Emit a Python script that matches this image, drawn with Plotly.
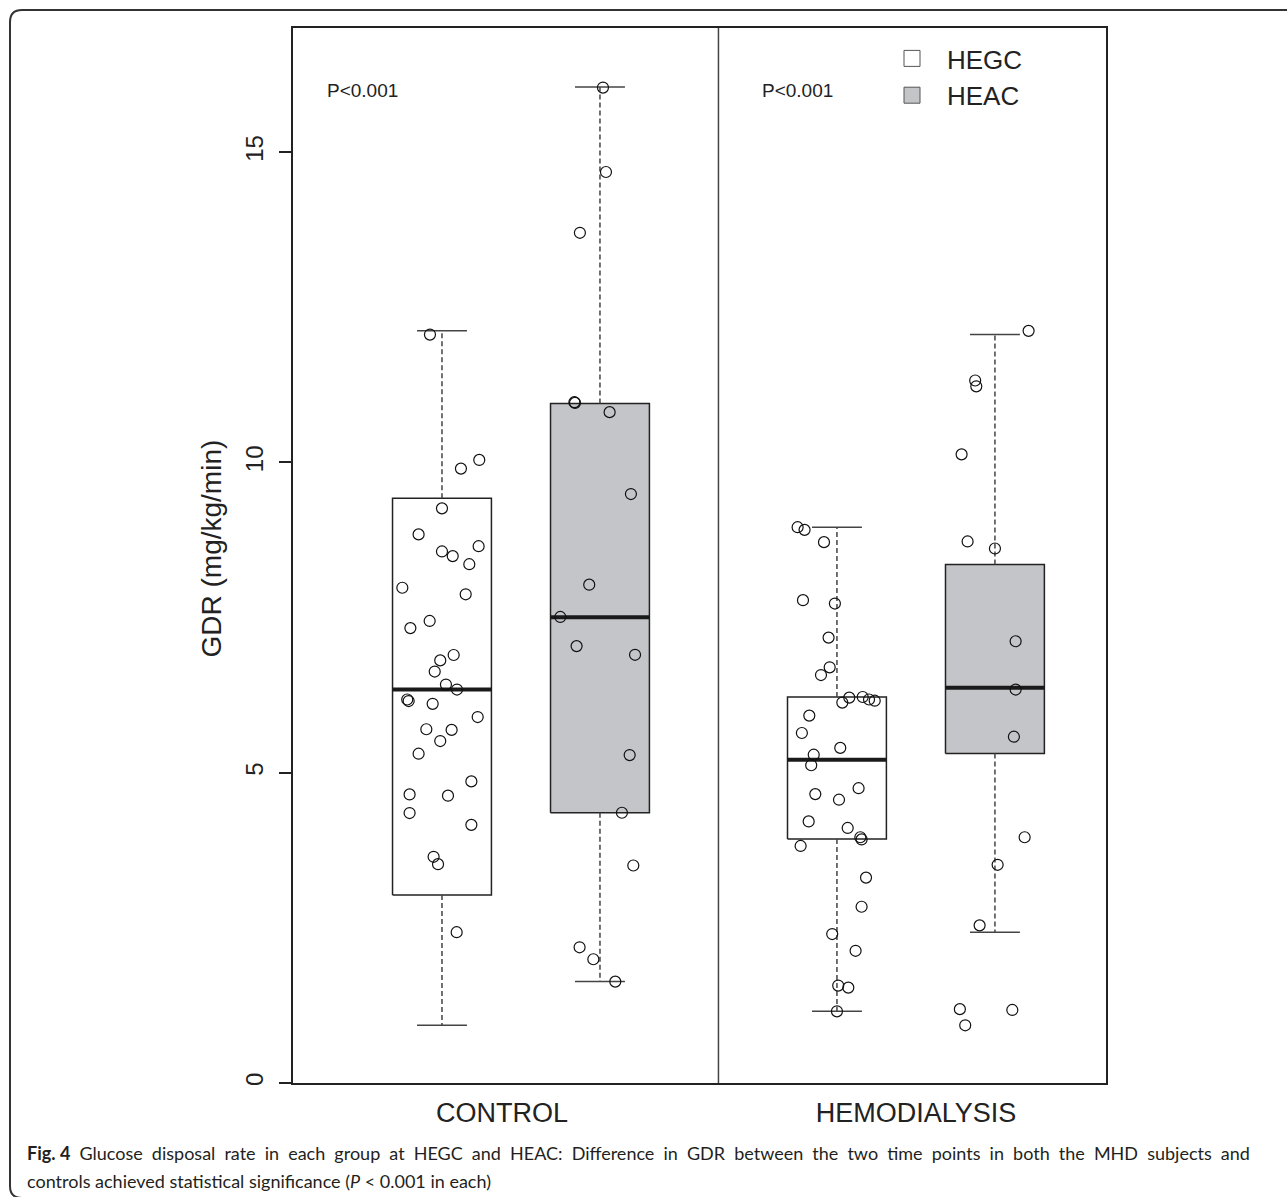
import plotly.graph_objects as go

# ---- box statistics (GDR, mg/kg/min) ----
group_labels = ["CONTROL", "HEMODIALYSIS"]
group_label_pos = [1.38, 4.0]
box_names = ["HEGC", "HEAC", "HEGC", "HEAC"]
box_pos = [1.0, 2.0, 3.5, 4.5]
box_low = [0.93, 1.634, 1.155, 2.43]
box_q1 = [3.03, 4.355, 3.93, 5.31]
box_med = [6.34, 7.505, 5.21, 6.37]
box_q3 = [9.424, 10.95, 6.22, 8.355]
box_upp = [12.12, 16.05, 8.956, 12.06]

# ---- individual subjects (value, horizontal jitter) ----
ctl_hegc = [12.06, 10.04, 9.90, 9.26, 8.84, 8.65, 8.565, 8.49, 8.36, 7.98, 7.875,
            7.445, 7.33, 6.897, 6.81, 6.63, 6.42, 6.34, 6.18, 6.155, 6.11, 5.897,
            5.70, 5.69, 5.51, 5.306, 4.86, 4.65, 4.63, 4.35, 4.16, 3.645, 3.526, 2.43]
ctl_hegc_jit = [-0.076, 0.236, 0.12, 0.0, -0.148, 0.232, 0.0, 0.068, 0.173, -0.251, 0.15,
                -0.078, -0.2, 0.074, -0.011, -0.046, 0.025, 0.095, -0.22, -0.211, -0.059, 0.226,
                -0.099, 0.061, -0.011, -0.148, 0.186, -0.205, 0.038, -0.205, 0.186, -0.053, -0.025, 0.093]

ctl_heac = [16.04, 14.68, 13.70, 10.97, 10.96, 10.81, 9.49, 8.03, 7.51, 7.04, 6.90,
            5.284, 4.355, 3.505, 2.187, 1.994, 1.634]
ctl_heac_jit = [0.019, 0.038, -0.127, -0.162, -0.158, 0.061, 0.196, -0.068, -0.251, -0.148, 0.222,
                0.188, 0.139, 0.211, -0.129, -0.042, 0.097]

hd_hegc = [8.956, 8.913, 8.715, 7.78, 7.726, 7.177, 6.698, 6.574, 6.21, 6.13, 6.22,
           6.18, 6.16, 5.92, 5.64, 5.40, 5.29, 5.12, 4.75, 4.655, 4.565, 4.215, 4.11,
           3.96, 3.925, 3.82, 3.31, 2.84, 2.40, 2.13, 1.57, 1.537, 1.155]
hd_hegc_jit = [-0.249, -0.205, -0.082, -0.215, -0.013, -0.053, -0.046, -0.101, 0.078, 0.034, 0.163,
               0.203, 0.239, -0.175, -0.222, 0.021, -0.147, -0.163, 0.137, -0.137, 0.013, -0.179, 0.068,
               0.148, 0.156, -0.23, 0.184, 0.156, -0.03, 0.118, 0.008, 0.072, 0.0]

hd_heac = [12.12, 11.32, 11.226, 10.13, 8.726, 8.613, 7.118, 6.34, 5.58, 3.96, 3.516,
           2.54, 1.19, 1.177, 0.93]
hd_heac_jit = [0.213, -0.125, -0.118, -0.211, -0.173, 0.0, 0.131, 0.131, 0.12, 0.188, 0.017,
               -0.097, -0.222, 0.11, -0.188]

points = [(ctl_hegc, ctl_hegc_jit), (ctl_heac, ctl_heac_jit),
          (hd_hegc, hd_hegc_jit), (hd_heac, hd_heac_jit)]

# caption; the first line is justified by widening each word gap
caption_line1_words = ["<b>Fig. 4</b>"] + (
    "Glucose disposal rate in each group at HEGC and HEAC: "
    "Difference in GDR between the two time points in both the MHD subjects and").split(" ")
caption_line2 = "controls achieved statistical significance (<i>P</i> &lt; 0.001 in each)"

# ---- styling ----
FONT = "Liberation Sans, Arial, sans-serif"
CAP_FONT = "Lato, sans-serif"
INK = "#222222"
FILL = {"HEGC": "#ffffff", "HEAC": "#c4c5c9"}
BOX_HALF = 0.313
CAP_HALF = 0.158

W, H = 1287, 1197
ML, MR, MT, MB = 293, 181, 28, 114
PW, PH = W - ML - MR, H - MT - MB


def px(x):
    return (x - ML) / PW


def py(y):
    return (H - MB - y) / PH


fig = go.Figure()

for i, c in enumerate(box_pos):
    name = box_names[i]
    # box body
    fig.add_trace(go.Scatter(
        x=[c - BOX_HALF, c + BOX_HALF, c + BOX_HALF, c - BOX_HALF, c - BOX_HALF],
        y=[box_q1[i], box_q1[i], box_q3[i], box_q3[i], box_q1[i]],
        mode="lines", fill="toself", fillcolor=FILL[name],
        line=dict(color=INK, width=1.5), showlegend=False, hoverinfo="skip"))
    # whiskers (dashed)
    for a, b in ((box_q3[i], box_upp[i]), (box_q1[i], box_low[i])):
        fig.add_trace(go.Scatter(
            x=[c, c], y=[a, b], mode="lines",
            line=dict(color="#444444", width=1.5, dash="5px,3px"),
            showlegend=False, hoverinfo="skip"))
    # staples
    for v in (box_upp[i], box_low[i]):
        fig.add_trace(go.Scatter(
            x=[c - CAP_HALF, c + CAP_HALF], y=[v, v], mode="lines",
            line=dict(color="#444444", width=1.5), showlegend=False, hoverinfo="skip"))
    # median
    fig.add_trace(go.Scatter(
        x=[c - BOX_HALF, c + BOX_HALF], y=[box_med[i], box_med[i]], mode="lines",
        line=dict(color="#1a1a1a", width=4), showlegend=False, hoverinfo="skip"))

# jittered subjects
for i, (vals, jit) in enumerate(points):
    fig.add_trace(go.Scatter(
        x=[box_pos[i] + j for j in jit], y=vals, mode="markers",
        marker=dict(symbol="circle-open", size=11, color="#111111", line=dict(width=1.2)),
        showlegend=False, hoverinfo="y"))

# legend entries
for name in ["HEGC", "HEAC"]:
    fig.add_trace(go.Scatter(
        x=[None], y=[None], mode="markers", name=name,
        marker=dict(symbol="square", size=18, color=FILL[name],
                    line=dict(color="#555555", width=1))))

divider = (box_pos[1] + box_pos[2]) / 2

shapes = [
    dict(type="line", xref="x", yref="paper", x0=divider, x1=divider, y0=0, y1=1,
         line=dict(color="#444444", width=1.5)),
]

# rounded outer frame around figure and caption
r = 12
fx0, fy0, fy1, fx1 = 10, 10, 1198, 1300
path = (f"M {px(fx1)},{py(fy0)} L {px(fx0 + r)},{py(fy0)} "
        f"Q {px(fx0)},{py(fy0)} {px(fx0)},{py(fy0 + r)} "
        f"L {px(fx0)},{py(fy1 - r)} "
        f"Q {px(fx0)},{py(fy1)} {px(fx0 + r)},{py(fy1)} "
        f"L {px(fx1)},{py(fy1)}")
shapes.append(dict(type="path", xref="paper", yref="paper", path=path,
                   line=dict(color="#333333", width=2)))

annotations = [
    dict(x=0.5, y=16.0, xref="x", yref="y", text="P&lt;0.001", showarrow=False,
         font=dict(family=FONT, size=19, color=INK)),
    dict(x=3.25, y=16.0, xref="x", yref="y", text="P&lt;0.001", showarrow=False,
         font=dict(family=FONT, size=19, color=INK)),
    dict(x=px(193), y=py(549), xref="paper", yref="paper", text="GDR (mg/kg/min)",
         textangle=-90, showarrow=False, font=dict(family=FONT, size=28, color=INK)),
    dict(x=px(25), y=py(1153), xref="paper", yref="paper", xanchor="left", yanchor="middle",
         text=" \u2005".join(caption_line1_words), showarrow=False, align="left",
         font=dict(family=CAP_FONT, size=18, color="#231f20")),
    dict(x=px(25), y=py(1181), xref="paper", yref="paper", xanchor="left", yanchor="middle",
         text=caption_line2, showarrow=False, align="left",
         font=dict(family=CAP_FONT, size=18, color="#231f20")),
]

fig.update_layout(
    width=W, height=H,
    margin=dict(l=ML, r=MR, t=MT, b=MB),
    paper_bgcolor="white", plot_bgcolor="white",
    font=dict(family=FONT, color=INK),
    shapes=shapes, annotations=annotations,
    legend=dict(x=px(877), y=py(35), xanchor="left", yanchor="top",
                bgcolor="rgba(0,0,0,0)", font=dict(family=FONT, size=26, color=INK),
                tracegroupgap=0, itemwidth=60),
    xaxis=dict(range=[0.057, 5.203], showgrid=False, zeroline=False,
               showline=True, mirror=True, linecolor=INK, linewidth=2,
               tickmode="array", tickvals=group_label_pos, ticktext=group_labels,
               ticks="", tickfont=dict(family=FONT, size=27, color=INK),
               ticklabelstandoff=5),
    yaxis=dict(range=[0, 17.0], showgrid=False, zeroline=False,
               showline=True, mirror=True, linecolor=INK, linewidth=2,
               tickmode="array", tickvals=[0, 5, 10, 15], ticktext=["0", "5", "10", "15"],
               ticks="outside", ticklen=12, tickwidth=1.5, tickcolor=INK,
               tickangle=-90, tickfont=dict(family=FONT, size=24, color=INK),
               ticklabelstandoff=6),
)

fig.write_html("out.html")
